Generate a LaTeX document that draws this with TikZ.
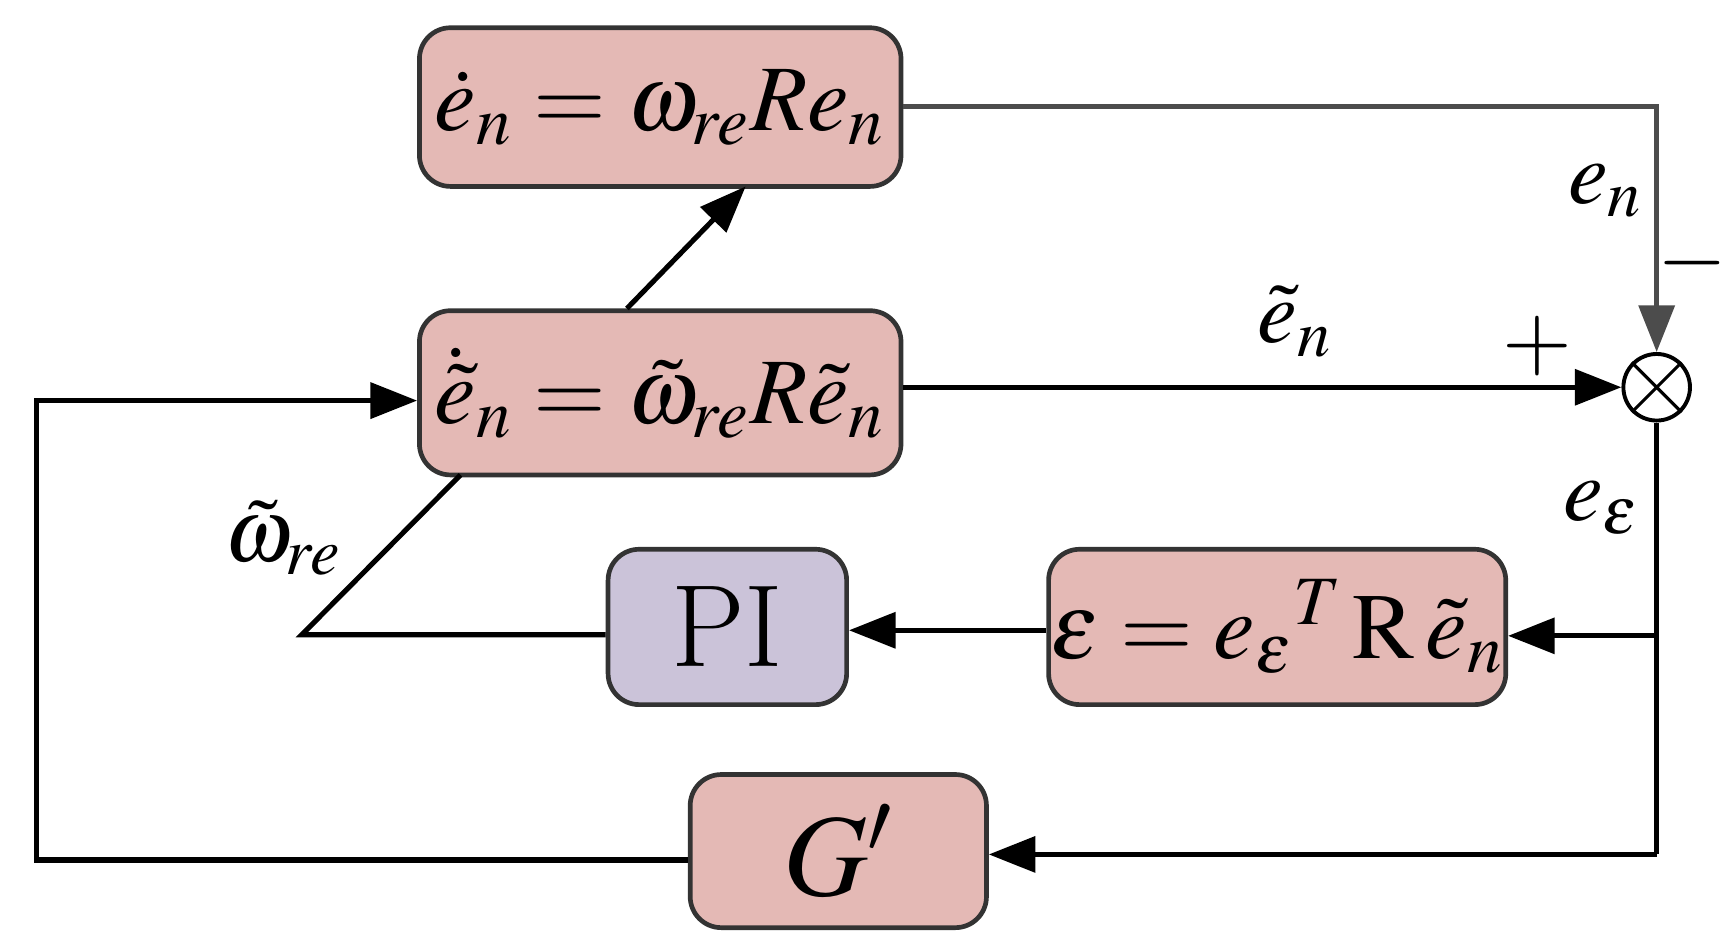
\documentclass[tikz,border=0pt]{standalone}
\usepackage{mathptmx}
\usetikzlibrary{arrows.meta}
\definecolor{boxr}{HTML}{E4B9B5}
\definecolor{boxp}{HTML}{CBC3D9}
\begin{document}
\begin{tikzpicture}[x=1cm,y=1cm,
  blk/.style={draw=black!80,line width=1.2pt,rounded corners=0.28cm,fill=boxr,inner sep=0pt},
  ln/.style={line width=1.3pt},
  arr/.style={ln,-{Triangle[length=0.42cm,width=0.32cm]}},
  lbl/.style={font=\fontsize{23}{28}\selectfont},
  big/.style={font=\fontsize{24}{30}\selectfont}]
\useasboundingbox (0,0) rectangle (15.6,-8.51);
\node[blk,big,minimum width=4.34cm,minimum height=1.43cm] (b1) at (5.95,-0.965) {$\dot e_n = \omega_{re} R e_n$};
\node[blk,big,minimum width=4.34cm,minimum height=1.48cm] (b2) at (5.95,-3.54) {$\dot{\tilde e}_n = \tilde\omega_{re} R \tilde e_n$};
\node[blk,fill=boxp,font=\fontsize{30}{36}\selectfont,minimum width=2.15cm,minimum height=1.4cm] (pi) at (6.555,-5.65) {PI};
\node[blk,big,minimum width=4.12cm,minimum height=1.4cm] (eb) at (11.51,-5.65) {$\varepsilon = e_\varepsilon{}^T\,\mathrm{R}\,\tilde e_n$};
\node[blk,font=\fontsize{30}{36}\selectfont,minimum width=2.67cm,minimum height=1.38cm] (g) at (7.555,-7.67) {$G'$};
\node[draw,line width=1pt,circle,minimum size=0.6cm,inner sep=0pt,fill=white] (s) at (14.93,-3.49) {};
\draw[line width=0.8pt] (s.45)--(s.225) (s.135)--(s.315);
\coordinate (c1) at (14.93,-0.96);
\coordinate (c2) at (14.93,-5.73);
\coordinate (c3) at (14.93,-7.70);
\coordinate (c4) at (0.33,-7.75);
\coordinate (c5) at (0.33,-3.61);
\coordinate (c6) at (2.72,-5.72);
\draw[arr,black!70] (b1.east |- c1) -- (c1) -- (s.north);
\draw[arr] (b2.east |- s) -- (s.west);
\draw[ln] (s.south) -- (c3);
\draw[arr] (c2) -- (eb.east |- c2);
\draw[arr] (c3) -- (g.east |- c3);
\draw[arr] (g.west |- c4) -- (c4) -- (c5) -- (b2.west |- c5);
\draw[arr] (eb.west |- 0,-5.68) -- (pi.east |- 0,-5.68);
\draw[ln] (pi.west |- c6) -- (c6) -- (4.15,-4.28);
\draw[arr] (5.65,-2.78) -- (6.72,-1.68);
\node[lbl] (l1) at (14.47,-1.72) {$e_n$};
\node[lbl] (l2) at (15.25,-2.37) {$-$};
\node[lbl] (l3) at (11.67,-2.9) {$\tilde e_n$};
\node[lbl] (l4) at (13.85,-3.12) {$+$};
\node[lbl] (l5) at (14.43,-4.58) {$e_\varepsilon$};
\node[lbl] (l6) at (2.55,-4.85) {$\tilde\omega_{re}$};
\end{tikzpicture}
\end{document}
